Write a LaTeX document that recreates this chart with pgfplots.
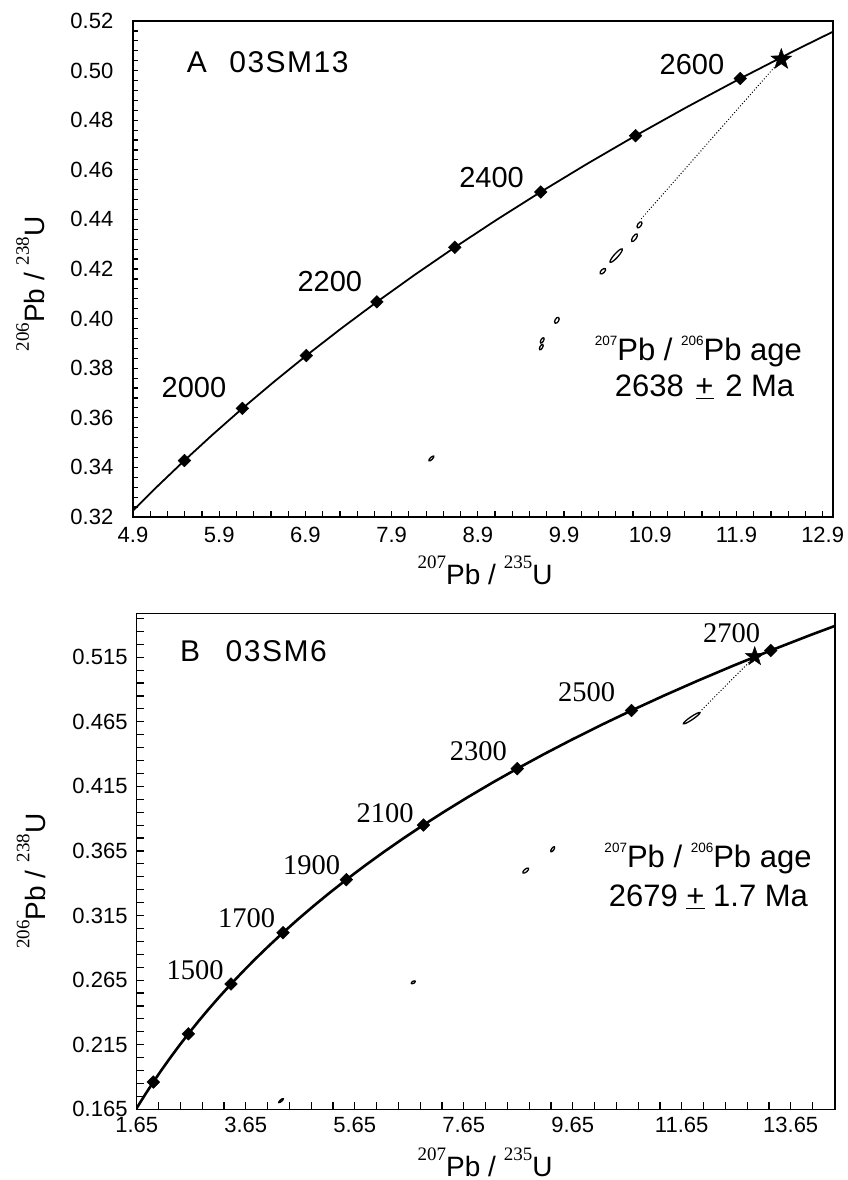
\documentclass[border=0pt]{standalone}
\usepackage{fontspec}
\setmainfont{Liberation Sans}
\newfontfamily\tnr{Liberation Serif}
\newfontfamily\ttlf[LetterSpace=5]{Liberation Sans}
\usepackage{pgfplots}
\pgfplotsset{compat=1.18}

\pgfdeclareplotmark{fstar}{%
  \pgfpathmoveto{\pgfqpointpolar{90}{\pgfplotmarksize}}%
  \pgfpathlineto{\pgfqpointpolar{126}{0.40\pgfplotmarksize}}%
  \pgfpathlineto{\pgfqpointpolar{162}{\pgfplotmarksize}}%
  \pgfpathlineto{\pgfqpointpolar{198}{0.40\pgfplotmarksize}}%
  \pgfpathlineto{\pgfqpointpolar{234}{\pgfplotmarksize}}%
  \pgfpathlineto{\pgfqpointpolar{270}{0.40\pgfplotmarksize}}%
  \pgfpathlineto{\pgfqpointpolar{306}{\pgfplotmarksize}}%
  \pgfpathlineto{\pgfqpointpolar{342}{0.40\pgfplotmarksize}}%
  \pgfpathlineto{\pgfqpointpolar{18}{\pgfplotmarksize}}%
  \pgfpathlineto{\pgfqpointpolar{54}{0.40\pgfplotmarksize}}%
  \pgfpathclose
  \pgfusepathqfillstroke}
\pgfdeclareplotmark{ell}{%
  \pgfpathellipse{\pgfpointorigin}{\pgfqpoint{\pgfplotmarksize}{0pt}}{\pgfqpoint{0pt}{\pgfplotmarksize}}%
  \pgfusepathqfillstroke}

\newcommand{\supT}[1]{\raisebox{16pt}{\tnr\fontsize{19}{19}\selectfont #1}}
\newcommand{\supS}[1]{\raisebox{15pt}{\fontsize{13.5}{13.5}\selectfont #1}}
\newcommand{\tfont}{\fontsize{22}{22}\selectfont}

\pgfplotsset{
  conc/.style={
    scale only axis, clip=true,
    axis line style={line width=1.5pt},
    tick align=inside, xtick pos=left, ytick pos=left,
    major tick length=5.5pt, minor tick length=5.5pt,
    every tick/.style={black, line width=1.2pt},
    label style={font=\fontsize{28}{28}\selectfont, inner sep=0pt},
    /pgf/number format/assume math mode=true,
  },
  ellp/.style={only marks, mark=ell, mark size=#1, black, fill=white, line width=1.3pt},
}

\begin{document}
\begin{tikzpicture}
\useasboundingbox (0,0) rectangle (847pt,1180pt);

% ---------------- Panel A ----------------
\begin{axis}[conc,
  at={(133pt,663pt)}, anchor=south west,
  width=700pt, height=496pt,
  xmin=4.9, xmax=13.02, ymin=0.32, ymax=0.52,
  xtick={4.9,5.9,6.9,7.9,8.9,9.9,10.9,11.9,12.9},
  minor xtick={5.1,5.3,5.5,5.7,6.1,6.3,6.5,6.7,7.1,7.3,7.5,7.7,8.1,8.3,8.5,8.7,9.1,9.3,9.5,9.7,10.1,10.3,10.5,10.7,11.1,11.3,11.5,11.7,12.1,12.3,12.5,12.7},
  ytick={0.32,0.34,0.36,0.38,0.40,0.42,0.44,0.46,0.48,0.50,0.52},
  minor ytick={0.324,0.328,0.332,0.336,0.344,0.348,0.352,0.356,0.364,0.368,0.372,0.376,0.384,0.388,0.392,0.396,0.404,0.408,0.412,0.416,0.424,0.428,0.432,0.436,0.444,0.448,0.452,0.456,0.464,0.468,0.472,0.476,0.484,0.488,0.492,0.496,0.504,0.508,0.512,0.516},
  xticklabel={\tfont\pgfmathprintnumber[fixed,fixed zerofill,precision=1,assume math mode=true]{\tick}},
  yticklabel={\tfont\pgfmathprintnumber[fixed,fixed zerofill,precision=2,assume math mode=true]{\tick}},
  xticklabel style={inner sep=0pt, anchor=north, yshift=-9.5pt},
  yticklabel style={inner sep=0pt, anchor=east, xshift=-19.5pt},
  xlabel={\supT{207}Pb / \supT{235}U},
  ylabel={\supT{206}Pb / \supT{238}U},
  xlabel style={at={(axis description cs:0.503,-0.107)}, anchor=center},
  ylabel style={at={(axis description cs:-0.146,0.47)}, anchor=center},
]
% concordia
\addplot[black, line width=1.8pt] coordinates {
(4.6041,0.31189) (4.8869,0.32210) (5.1840,0.33240) (5.4962,0.34277)
(5.8241,0.35323) (6.1685,0.36377) (6.5304,0.37438) (6.9104,0.38509)
(7.3098,0.39587) (7.7292,0.40674) (8.1698,0.41769) (8.6326,0.42873)
(9.1188,0.43986) (9.6294,0.45107) (10.1661,0.46237) (10.7297,0.47375)
(11.3218,0.48523) (11.9437,0.49679) (12.5969,0.50845) (13.2834,0.52019)};
% age ticks 1900-2600
\addplot[only marks, mark=square*, mark size=4.5pt, mark options={rotate=45}, black] coordinates {
(5.4962,0.34277) (6.1685,0.36377) (6.9104,0.38509) (7.7292,0.40674)
(8.6326,0.42873) (9.6294,0.45107) (10.7297,0.47375) (11.9437,0.49679)};
% discordia (dotted)
\addplot[black, line width=1pt, dotted] coordinates {(10.795,0.4402) (12.42,0.5045)};
% analyses (error ellipses)
\addplot[ellp=3.5pt, mark options={rotate=55, yscale=0.5}] coordinates {(10.775,0.4378)};
\addplot[ellp=4.5pt, mark options={rotate=55, yscale=0.4}] coordinates {(10.717,0.4326)};
\addplot[ellp=9pt, mark options={rotate=48, yscale=0.22}] coordinates {(10.505,0.4254)};
\addplot[ellp=3.5pt, mark options={rotate=45, yscale=0.5}] coordinates {(10.35,0.4191)};
\addplot[ellp=3.3pt, mark options={rotate=60, yscale=0.55}] coordinates {(9.817,0.3993)};
\addplot[ellp=3pt, mark options={rotate=60, yscale=0.45}] coordinates {(9.647,0.3912)};
\addplot[ellp=3pt, mark options={rotate=60, yscale=0.45}] coordinates {(9.636,0.3885)};
\addplot[ellp=3.3pt, mark options={rotate=45, yscale=0.35}] coordinates {(8.361,0.3436)};
% star
\addplot[only marks, mark=fstar, mark size=11pt, black] coordinates {(12.42,0.5045)};
% annotations
\node[anchor=west, inner sep=0pt, font=\ttlf\fontsize{30}{30}\selectfont] at (axis cs:5.522,0.5032) {A\hspace{0.75em}03SM13};
\begin{scope}[every node/.style={anchor=center, inner sep=0pt, font=\fontsize{29}{29}\selectfont}]
\node at (axis cs:5.607,0.3724) {2000};
\node at (axis cs:7.183,0.4151) {2200};
\node at (axis cs:9.06,0.4568) {2400};
\node at (axis cs:11.383,0.5023) {2600};
\end{scope}
\node[anchor=base, inner sep=0pt, font=\fontsize{31}{31}\selectfont] at (axis cs:11.459,0.3832) {\supS{207}Pb / \supS{206}Pb age};
\node[anchor=base, inner sep=0pt, font=\fontsize{31}{31}\selectfont] at (axis cs:11.53,0.3684) {2638\hspace{0.1em} \underline{+}\hspace{0.1em} 2 Ma};
\end{axis}

% ---------------- Panel B ----------------
\begin{axis}[conc,
  at={(136.7pt,70.7pt)}, anchor=south west,
  width=698.3pt, height=496pt,
  xmin=1.65, xmax=14.463, ymin=0.165, ymax=0.549,
  major tick length=7pt, minor tick length=7pt,
  xtick={1.65,3.65,5.65,7.65,9.65,11.65,13.65},
  minor xtick={2.05,2.45,2.85,3.25,4.05,4.45,4.85,5.25,6.05,6.45,6.85,7.25,8.05,8.45,8.85,9.25,10.05,10.45,10.85,11.25,12.05,12.45,12.85,13.25,14.05},
  ytick={0.165,0.215,0.265,0.315,0.365,0.415,0.465,0.515},
  minor ytick={0.175,0.185,0.195,0.205,0.225,0.235,0.245,0.255,0.275,0.285,0.295,0.305,0.325,0.335,0.345,0.355,0.375,0.385,0.395,0.405,0.425,0.435,0.445,0.455,0.475,0.485,0.495,0.505,0.525,0.535,0.545},
  xticklabel={\tfont\pgfmathprintnumber[fixed,fixed zerofill,precision=2,assume math mode=true]{\tick}},
  yticklabel={\tfont\pgfmathprintnumber[fixed,fixed zerofill,precision=3,assume math mode=true]{\tick}},
  xticklabel style={inner sep=0pt, anchor=north, yshift=-8pt},
  yticklabel style={inner sep=0pt, anchor=east, xshift=-9pt},
  xlabel={\supT{207}Pb / \supT{235}U},
  ylabel={\supT{206}Pb / \supT{238}U},
  xlabel style={at={(axis description cs:0.499,-0.106)}, anchor=center},
  ylabel style={at={(axis description cs:-0.151,0.46)}, anchor=center},
]
\addplot[black, line width=2.6pt] coordinates {
(1.5488,0.15878) (1.6774,0.16783) (1.8126,0.17690) (1.9545,0.18606)
(2.1037,0.19530) (2.2603,0.20460) (2.4249,0.21398) (2.5977,0.22344)
(2.7793,0.23296) (2.9701,0.24256) (3.1705,0.25224) (3.3810,0.26199)
(3.6021,0.27181) (3.8344,0.28172) (4.0784,0.29170) (4.3348,0.30175)
(4.6041,0.31189) (4.8869,0.32210) (5.1840,0.33240) (5.4962,0.34277)
(5.8241,0.35323) (6.1685,0.36377) (6.5304,0.37438) (6.9104,0.38509)
(7.3098,0.39587) (7.7292,0.40674) (8.1698,0.41769) (8.6326,0.42873)
(9.1188,0.43986) (9.6294,0.45107) (10.1661,0.46237) (10.7297,0.47375)
(11.3218,0.48523) (11.9437,0.49679) (12.5969,0.50845) (13.2834,0.52019)
(14.0043,0.53203) (14.7617,0.54396)};
\addplot[only marks, mark=square*, mark size=4.5pt, mark options={rotate=45}, black] coordinates {
(1.9545,0.18606) (2.5977,0.22344) (3.3810,0.26199) (4.3348,0.30175)
(5.4962,0.34277) (6.9104,0.38509) (8.6326,0.42873) (10.7297,0.47375)
(13.2834,0.52019)};
\addplot[black, line width=1pt, dotted] coordinates {(12.017,0.4742) (12.99,0.5155)};
\addplot[ellp=10pt, mark options={rotate=34, yscale=0.15}] coordinates {(11.833,0.4678)};
\addplot[ellp=3pt, mark options={rotate=55, yscale=0.4}] coordinates {(9.283,0.3663)};
\addplot[ellp=3.6pt, mark options={rotate=40, yscale=0.42}] coordinates {(8.788,0.3498)};
\addplot[ellp=2.2pt, mark options={rotate=30, yscale=0.5}] coordinates {(6.725,0.2633)};
\addplot[ellp=3pt, mark options={rotate=40, yscale=0.3}] coordinates {(4.298,0.1717)};
\addplot[only marks, mark=fstar, mark size=10pt, black] coordinates {(12.99,0.5155)};
\node[anchor=west, inner sep=0pt, font=\ttlf\fontsize{30}{30}\selectfont] at (axis cs:2.445,0.5199) {B\hspace{0.85em}03SM6};
\begin{scope}[every node/.style={anchor=center, inner sep=0pt, font=\tnr\fontsize{28.5}{28.5}\selectfont}]
\node at (axis cs:2.72,0.2729) {1500};
\node at (axis cs:3.668,0.3129) {1700};
\node at (axis cs:4.861,0.3542) {1900};
\node at (axis cs:6.206,0.3942) {2100};
\node at (axis cs:7.918,0.4419) {2300};
\node at (axis cs:9.907,0.4876) {2500};
\node at (axis cs:12.567,0.5336) {2700};
\end{scope}
\node[anchor=base, inner sep=0pt, font=\fontsize{31}{31}\selectfont] at (axis cs:12.133,0.3519) {\supS{207}Pb / \supS{206}Pb age};
\node[anchor=base, inner sep=0pt, font=\fontsize{31}{31}\selectfont] at (axis cs:12.14,0.3217) {2679 \underline{+} 1.7 Ma};
\end{axis}
\end{tikzpicture}
\end{document}
